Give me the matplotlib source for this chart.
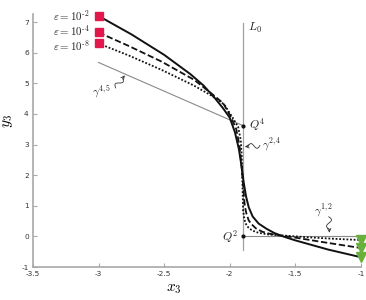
import numpy as np
import matplotlib
matplotlib.use("Agg")
import matplotlib.pyplot as plt

plt.rcParams['mathtext.fontset'] = 'cm'
plt.rcParams['font.family'] = ['DejaVu Sans']

# ---- data ----
solid_x = [-3.0, -2.75, -2.5, -2.3, -2.2, -2.11, -2.05, -2.0, -1.96, -1.93, -1.91,
           -1.893, -1.875, -1.855, -1.825, -1.78, -1.72, -1.66, -1.58, -1.5, -1.4,
           -1.25, -1.0]
solid_y = [7.2, 6.6, 5.93, 5.3, 4.93, 4.5, 4.18, 3.88, 3.4, 2.85, 2.3,
           1.75, 1.3, 0.95, 0.65, 0.42, 0.25, 0.11, -0.02, -0.13, -0.25,
           -0.43, -0.68]

dashed_x = [-3.0, -2.77, -2.52, -2.27, -2.12, -2.05, -1.99, -1.95, -1.925, -1.91,
            -1.9, -1.893, -1.885, -1.873, -1.855, -1.834, -1.8, -1.75, -1.7, -1.63,
            -1.5, -1.3, -1.0]
dashed_y = [6.66, 6.22, 5.71, 5.11, 4.6, 4.35, 3.9, 3.5, 2.95, 2.3,
            1.8, 1.4, 1.0, 0.75, 0.52, 0.4, 0.26, 0.15, 0.09, 0.04,
            -0.04, -0.18, -0.38]

dotted_x = [-3.0, -2.77, -2.52, -2.27, -2.1, -2.04, -1.975, -1.936, -1.916, -1.908,
            -1.904, -1.901, -1.898, -1.89, -1.88, -1.86, -1.834, -1.8, -1.758, -1.7,
            -1.6, -1.4, -1.2, -1.0]
dotted_y = [6.3, 5.91, 5.44, 4.92, 4.5, 4.3, 3.86, 3.58, 3.15, 2.6,
            2.0, 1.4, 0.86, 0.6, 0.43, 0.3, 0.21, 0.14, 0.10, 0.06,
            0.03, -0.03, -0.08, -0.12]

L0_x = [-1.9, -1.9]
L0_y = [6.98, -0.44]
Q4 = (-1.9, 3.62)
Q2 = (-1.9, 0.0)
gamma45_x = [-3.0, -1.9]
gamma45_y = [5.68, 3.62]
gamma12_x = [-1.9, -1.0]
gamma12_y = [0.0, 0.0]

eps_labels = [r'$\varepsilon = 10^{\text{-}2}$', r'$\varepsilon = 10^{\text{-}4}$',
              r'$\varepsilon = 10^{\text{-}8}$']

xticks = [-3.5, -3, -2.5, -2, -1.5, -1]
xticklabels = ['-3.5', '-3', '-2.5', '-2', '-1.5', '-1']
yticks = [-1, 0, 1, 2, 3, 4, 5, 6, 7]
yticklabels = ['-1', '0', '1', '2', '3', '4', '5', '6', '7']

# ---- figure ----
fig = plt.figure(figsize=(3.66, 3.0), dpi=100)
ax = fig.add_axes([0.090, 0.11, 0.896, 0.842])
ax.set_xlim(-3.5, -1.0)
ax.set_ylim(-1.0, 7.25)

gray_axis = '#a8a8a8'
for s in ['top', 'right']:
    ax.spines[s].set_visible(False)
for s in ['left', 'bottom']:
    ax.spines[s].set_color(gray_axis)
    ax.spines[s].set_linewidth(1.2)
ax.tick_params(direction='in', length=3, width=0.8, color=gray_axis,
               labelsize=5.3, labelcolor='#333333')
ax.tick_params(axis='x', pad=3)
ax.tick_params(axis='y', pad=3)
ax.set_xticks(xticks)
ax.set_xticklabels(xticklabels)
ax.set_yticks(yticks)
ax.set_yticklabels(yticklabels)

ax.set_xlabel(r'$x_3$', fontsize=11)
ax.xaxis.set_label_coords(0.43, -0.055)
ax.set_ylabel(r'$y_3$', fontsize=11, rotation=90)
ax.yaxis.set_label_coords(-0.055, 0.58)

# reference lines
lg = '#8a8a8a'
ax.plot(L0_x, L0_y, color='#a0a0a0', lw=0.9, zorder=1)
ax.plot(gamma45_x, gamma45_y, color=lg, lw=0.8, zorder=1)
ax.plot(gamma12_x, gamma12_y, color=lg, lw=0.8, zorder=1)

# curves
ax.plot(solid_x, solid_y, color='#111111', lw=1.4, zorder=3, solid_capstyle='butt')
ax.plot(dashed_x, dashed_y, color='#111111', lw=1.3, ls=(0, (3.5, 1.5)), zorder=3)
ax.plot(dotted_x, dotted_y, color='#111111', lw=1.3, ls=(0, (1, 1)), zorder=3)

# end markers
red = '#e2184c'
green = '#6ab03c'
for xs, ys in [(solid_x, solid_y), (dashed_x, dashed_y), (dotted_x, dotted_y)]:
    ax.plot(xs[0], ys[0], marker='s', ms=6, color=red, mec=red, zorder=4, clip_on=False)
    ax.plot(xs[-1], ys[-1], marker='v', ms=6.5, color=green, mec=green, zorder=4, clip_on=False)

# points
ax.plot(*Q4, marker='o', ms=2, color='#111111', zorder=5)
ax.plot(*Q2, marker='o', ms=2, color='#111111', zorder=5)

# texts
tc = '#222222'
for lab, yv in zip(eps_labels, [7.22, 6.73, 6.24]):
    ax.text(-3.07, yv, lab, ha='right', va='center', fontsize=7.8, color=tc)
ax.text(-1.862, 6.8, r'$L_0$', ha='left', va='center', fontsize=8.5, color=tc)
ax.text(-1.85, 3.66, r'$Q^4$', ha='left', va='center', fontsize=8.5, color=tc)
ax.text(-1.935, 0.0, r'$Q^2$', ha='right', va='center', fontsize=8.5, color=tc)
ax.text(-1.755, 3.0, r'$\gamma^{2,4}$', ha='left', va='center', fontsize=8, color=tc)
ax.text(-1.36, 0.85, r'$\gamma^{1,2}$', ha='left', va='center', fontsize=8, color=tc)
ax.text(-3.05, 4.72, r'$\gamma^{4,5}$', ha='left', va='center', fontsize=8, color=tc)


def squiggle(start, end, amp=2.6, frac=0.78):
    fig.canvas.draw()
    T = ax.transData
    s = np.array(T.transform(start))
    e = np.array(T.transform(end))
    d = e - s
    L = np.hypot(*d)
    u = d / L
    n = np.array([-u[1], u[0]])
    t = np.linspace(0, frac, 60)
    pts = s[None, :] + np.outer(t, d) + np.outer(amp * np.sin(2 * np.pi * t / frac), n)
    dpts = T.inverted().transform(pts)
    ax.plot(dpts[:, 0], dpts[:, 1], color='#333333', lw=0.6, zorder=6)
    ax.annotate('', xy=end, xytext=tuple(dpts[-1]),
                arrowprops=dict(arrowstyle='->', lw=0.6, color='#333333',
                                shrinkA=0, shrinkB=0, mutation_scale=6), zorder=6)


squiggle((-2.87, 4.85), (-2.80, 5.26))
squiggle((-1.77, 2.97), (-1.885, 2.93))
squiggle((-1.245, 0.64), (-1.24, 0.12))

fig.savefig('out.png', dpi=100)
